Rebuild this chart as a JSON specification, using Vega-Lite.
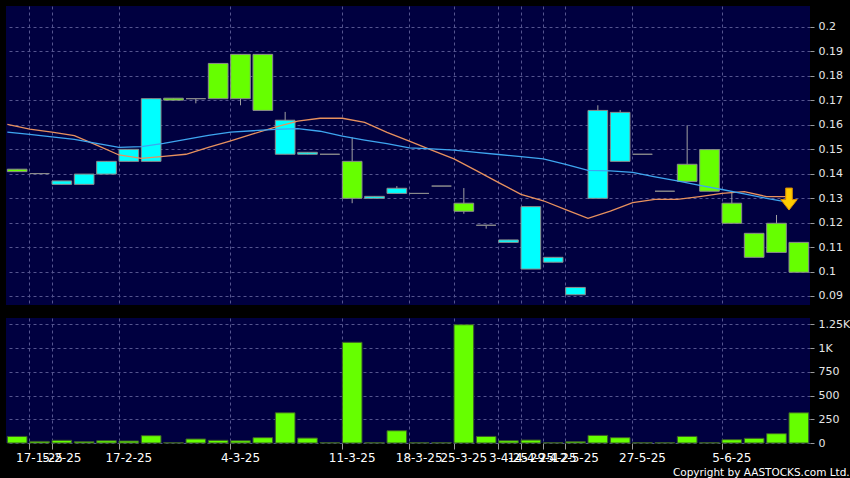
{
  "$schema": "https://vega.github.io/schema/vega-lite/v6.json",
  "background": "#000000",
  "padding": {"left": 4, "top": 6, "right": 0, "bottom": 0},
  "config": {
    "view": {"fill": "#000040", "stroke": null},
    "axis": {"labelFont": "DejaVu Sans", "labelColor": "#e6e6e6", "tickColor": "#9a9a9a", "gridColor": "#55558f", "gridDash": [3, 3], "gridWidth": 1, "domain": false, "title": null, "labelOverlap": false}
  },
  "title": {"text": "Copyright by AASTOCKS.com Ltd.", "orient": "bottom", "anchor": "end", "frame": "bounds", "font": "DejaVu Sans", "fontSize": 10.5, "fontWeight": "normal", "color": "#ffffff", "offset": 5},
  "data": {"values": [
    {"i": 1, "o": 0.1418, "c": 0.1408, "h": 0.1418, "l": 0.1408, "dir": "down", "v": 69, "m1": 0.1601, "m2": 0.1569},
    {"i": 2, "o": 0.1400, "c": 0.1400, "h": 0.1400, "l": 0.1400, "dir": "flat", "v": 17, "m1": 0.1582, "m2": 0.1560},
    {"i": 3, "o": 0.1356, "c": 0.1370, "h": 0.1370, "l": 0.1356, "dir": "up", "v": 28, "m1": 0.1569, "m2": 0.1550},
    {"i": 4, "o": 0.1356, "c": 0.1398, "h": 0.1398, "l": 0.1356, "dir": "up", "v": 14, "m1": 0.1555, "m2": 0.1540},
    {"i": 5, "o": 0.1398, "c": 0.1450, "h": 0.1450, "l": 0.1398, "dir": "up", "v": 24, "m1": 0.1516, "m2": 0.1523},
    {"i": 6, "o": 0.1450, "c": 0.1499, "h": 0.1499, "l": 0.1450, "dir": "up", "v": 21, "m1": 0.1476, "m2": 0.1507},
    {"i": 7, "o": 0.1450, "c": 0.1706, "h": 0.1706, "l": 0.1450, "dir": "up", "v": 77, "m1": 0.1462, "m2": 0.1510},
    {"i": 8, "o": 0.1708, "c": 0.1700, "h": 0.1708, "l": 0.1700, "dir": "down", "v": 3, "m1": 0.1470, "m2": 0.1523},
    {"i": 9, "o": 0.1706, "c": 0.1706, "h": 0.1706, "l": 0.1687, "dir": "flat", "v": 42, "m1": 0.1479, "m2": 0.1540},
    {"i": 10, "o": 0.1850, "c": 0.1706, "h": 0.1850, "l": 0.1706, "dir": "down", "v": 28, "m1": 0.1507, "m2": 0.1556},
    {"i": 11, "o": 0.1887, "c": 0.1706, "h": 0.1887, "l": 0.1679, "dir": "down", "v": 24, "m1": 0.1534, "m2": 0.1569},
    {"i": 12, "o": 0.1887, "c": 0.1658, "h": 0.1887, "l": 0.1658, "dir": "down", "v": 56, "m1": 0.1562, "m2": 0.1575},
    {"i": 13, "o": 0.1479, "c": 0.1618, "h": 0.1652, "l": 0.1479, "dir": "up", "v": 318, "m1": 0.1590, "m2": 0.1581},
    {"i": 14, "o": 0.1479, "c": 0.1487, "h": 0.1487, "l": 0.1479, "dir": "up", "v": 52, "m1": 0.1614, "m2": 0.1584},
    {"i": 15, "o": 0.1479, "c": 0.1479, "h": 0.1479, "l": 0.1479, "dir": "flat", "v": 3, "m1": 0.1626, "m2": 0.1573},
    {"i": 16, "o": 0.1450, "c": 0.1299, "h": 0.1548, "l": 0.1279, "dir": "down", "v": 1060, "m1": 0.1626, "m2": 0.1553},
    {"i": 17, "o": 0.1299, "c": 0.1307, "h": 0.1307, "l": 0.1299, "dir": "up", "v": 3, "m1": 0.1609, "m2": 0.1537},
    {"i": 18, "o": 0.1319, "c": 0.1340, "h": 0.1349, "l": 0.1319, "dir": "up", "v": 129, "m1": 0.1568, "m2": 0.1522},
    {"i": 19, "o": 0.1319, "c": 0.1319, "h": 0.1319, "l": 0.1319, "dir": "flat", "v": 3, "m1": 0.1533, "m2": 0.1505},
    {"i": 20, "o": 0.1349, "c": 0.1349, "h": 0.1349, "l": 0.1349, "dir": "flat", "v": 3, "m1": 0.1496, "m2": 0.1501},
    {"i": 21, "o": 0.1279, "c": 0.1246, "h": 0.1341, "l": 0.1236, "dir": "down", "v": 1245, "m1": 0.1460, "m2": 0.1496},
    {"i": 22, "o": 0.1189, "c": 0.1189, "h": 0.1189, "l": 0.1175, "dir": "flat", "v": 69, "m1": 0.1412, "m2": 0.1487},
    {"i": 23, "o": 0.1119, "c": 0.1129, "h": 0.1129, "l": 0.1119, "dir": "up", "v": 24, "m1": 0.1363, "m2": 0.1478},
    {"i": 24, "o": 0.1010, "c": 0.1265, "h": 0.1265, "l": 0.1010, "dir": "up", "v": 31, "m1": 0.1315, "m2": 0.1469},
    {"i": 25, "o": 0.1038, "c": 0.1058, "h": 0.1058, "l": 0.1038, "dir": "up", "v": 3, "m1": 0.1289, "m2": 0.1460},
    {"i": 26, "o": 0.0905, "c": 0.0935, "h": 0.0935, "l": 0.0905, "dir": "up", "v": 14, "m1": 0.1253, "m2": 0.1438},
    {"i": 27, "o": 0.1299, "c": 0.1658, "h": 0.1679, "l": 0.1299, "dir": "up", "v": 80, "m1": 0.1217, "m2": 0.1413},
    {"i": 28, "o": 0.1450, "c": 0.1650, "h": 0.1660, "l": 0.1450, "dir": "up", "v": 56, "m1": 0.1247, "m2": 0.1411},
    {"i": 29, "o": 0.1479, "c": 0.1479, "h": 0.1479, "l": 0.1479, "dir": "flat", "v": 3, "m1": 0.1281, "m2": 0.1405},
    {"i": 30, "o": 0.1328, "c": 0.1328, "h": 0.1328, "l": 0.1328, "dir": "flat", "v": 3, "m1": 0.1295, "m2": 0.1387},
    {"i": 31, "o": 0.1438, "c": 0.1368, "h": 0.1597, "l": 0.1368, "dir": "down", "v": 69, "m1": 0.1295, "m2": 0.1370},
    {"i": 32, "o": 0.1498, "c": 0.1328, "h": 0.1498, "l": 0.1328, "dir": "down", "v": 3, "m1": 0.1306, "m2": 0.1352},
    {"i": 33, "o": 0.1279, "c": 0.1197, "h": 0.1326, "l": 0.1197, "dir": "down", "v": 35, "m1": 0.1319, "m2": 0.1335},
    {"i": 34, "o": 0.1156, "c": 0.1058, "h": 0.1156, "l": 0.1058, "dir": "down", "v": 49, "m1": 0.1326, "m2": 0.1317},
    {"i": 35, "o": 0.1197, "c": 0.1078, "h": 0.1231, "l": 0.1078, "dir": "down", "v": 98, "m1": 0.1306, "m2": 0.1299},
    {"i": 36, "o": 0.1119, "c": 0.0997, "h": 0.1119, "l": 0.0997, "dir": "down", "v": 318, "m1": 0.1306, "m2": 0.1282}
  ]},
  "spacing": 13,
  "vconcat": [
    {
      "width": 804,
      "height": 299,
      "layer": [
        {
          "mark": {"type": "rule", "color": "#a0a0a0", "strokeWidth": 1},
          "encoding": {
            "x": {"field": "i", "type": "ordinal",
              "scale": {"type": "band", "domain": [1,2,3,4,5,6,7,8,9,10,11,12,13,14,15,16,17,18,19,20,21,22,23,24,25,26,27,28,29,30,31,32,33,34,35,36], "paddingInner": 0.12, "paddingOuter": 0.06},
              "axis": {"orient": "bottom", "labels": false, "ticks": false, "grid": true, "bandPosition": 0, "values": [2,3,6,11,16,19,21,23,24,25,26,29,33]}},
            "y": {"field": "l", "type": "quantitative",
              "scale": {"domain": [0.08632, 0.20846], "nice": false, "zero": false},
              "axis": {"orient": "right", "grid": true, "values": [0.09,0.1,0.11,0.12,0.13,0.14,0.15,0.16,0.17,0.18,0.19,0.2], "format": "~g", "tickSize": 4, "labelPadding": 4, "labelFontSize": 11, "labelOverlap": false, "tickCount": 12, "labelSeparation": 0}},
            "y2": {"field": "h"}
          }
        },
        {
          "mark": {"type": "bar", "stroke": "#8c8c8c", "strokeWidth": 1},
          "encoding": {
            "x": {"field": "i", "type": "ordinal"},
            "y": {"field": "o", "type": "quantitative"},
            "y2": {"field": "c"},
            "fill": {"field": "dir", "type": "nominal", "scale": {"domain": ["up", "down", "flat"], "range": ["#00ffff", "#66ff00", "#a0a0b4"]}, "legend": null}
          }
        },
        {
          "mark": {"type": "line", "color": "#e8915e", "strokeWidth": 1.3},
          "encoding": {
            "x": {"field": "i", "type": "ordinal", "bandPosition": 0},
            "y": {"field": "m1", "type": "quantitative"}
          }
        },
        {
          "mark": {"type": "line", "color": "#3ea6f0", "strokeWidth": 1.3},
          "encoding": {
            "x": {"field": "i", "type": "ordinal", "bandPosition": 0},
            "y": {"field": "m2", "type": "quantitative"}
          }
        },
        {
          "data": {"values": [{"i": 36, "p": 0.1296}]},
          "mark": {"type": "point", "shape": "M-0.3,-1L0.3,-1L0.3,0.05L0.75,0.05L0,1L-0.75,0.05L-0.3,0.05Z", "filled": true, "fill": "#ffcc00", "stroke": "#d98c00", "strokeWidth": 1, "size": 484, "opacity": 1},
          "encoding": {
            "x": {"field": "i", "type": "ordinal", "bandPosition": 0},
            "y": {"field": "p", "type": "quantitative"}
          }
        }
      ]
    },
    {
      "width": 804,
      "height": 125,
      "mark": {"type": "bar", "fill": "#66ff00", "stroke": "#3b5a2b", "strokeWidth": 1},
      "encoding": {
        "x": {"field": "i", "type": "ordinal",
          "scale": {"type": "band", "domain": [1,2,3,4,5,6,7,8,9,10,11,12,13,14,15,16,17,18,19,20,21,22,23,24,25,26,27,28,29,30,31,32,33,34,35,36], "paddingInner": 0.12, "paddingOuter": 0.06},
          "axis": {"orient": "bottom", "grid": true, "bandPosition": 0, "values": [2,3,6,11,16,19,21,23,24,25,26,29,33], "tickSize": 6, "labelPadding": 3, "labelFontSize": 12, "labelAngle": 0, "labelColor": "#ffffff", "labelOverlap": false,
            "labelExpr": "datum.value==2?'17-1-25':datum.value==3?'5-2-25':datum.value==6?'17-2-25':datum.value==11?'4-3-25':datum.value==16?'11-3-25':datum.value==19?'18-3-25':datum.value==21?'25-3-25':datum.value==23?'3-4-25':datum.value==24?'14-4-25':datum.value==25?'29-4-25':datum.value==26?'12-5-25':datum.value==29?'27-5-25':datum.value==33?'5-6-25':''"}},
        "y": {"field": "v", "type": "quantitative",
          "scale": {"domain": [0, 1316], "nice": false, "zero": true},
          "axis": {"orient": "right", "grid": true, "values": [0,250,500,750,1000,1250], "tickSize": 4, "labelPadding": 4, "labelFontSize": 11, "labelOverlap": false,
            "labelExpr": "datum.value >= 1000 ? (datum.value/1000) + 'K' : datum.value"}}
      }
    }
  ]
}
